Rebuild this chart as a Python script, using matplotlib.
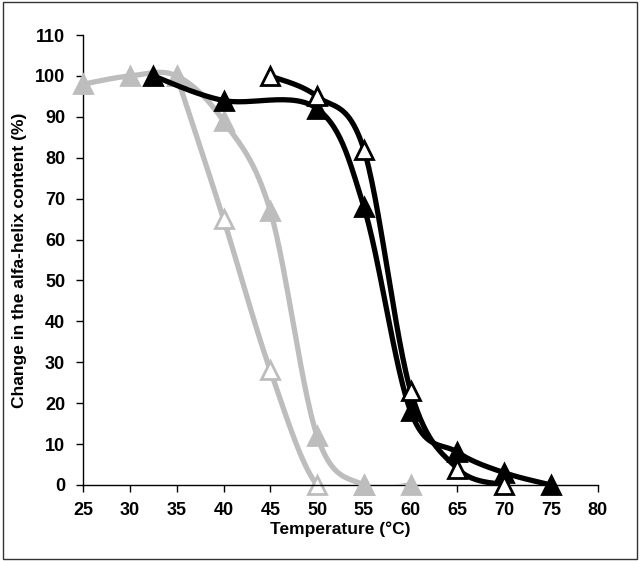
import numpy as np
import matplotlib.pyplot as plt
from matplotlib.patches import Rectangle

# data
gray_filled_x = [25, 30, 35, 40, 45, 50, 55, 60]
gray_filled_y = [98, 100, 100, 89, 67, 12, 0, 0]

gray_open_x = [35, 40, 45, 50, 55]
gray_open_y = [100, 65, 28, 0, 0]

black_filled_x = [32.5, 40, 50, 55, 60, 65, 70, 75]
black_filled_y = [100, 94, 92, 68, 18, 8, 3, 0]

black_open_x = [45, 50, 55, 60, 65, 70]
black_open_y = [100, 95, 82, 23, 4, 0]

x_ticks = list(range(25, 81, 5))
y_ticks = list(range(0, 111, 10))

gray = '#bdbdbd'


def smooth(xs, ys, n=30):
    # Excel-like smoothed line (Catmull-Rom bezier)
    p = np.column_stack([xs, ys]).astype(float)
    p = np.vstack([p[0], p, p[-1]])
    out = []
    t = np.linspace(0, 1, n)[:, None]
    for i in range(1, len(p) - 2):
        p0, p1, p2, p3 = p[i - 1], p[i], p[i + 1], p[i + 2]
        c1 = p1 + (p2 - p0) / 6
        c2 = p2 - (p3 - p1) / 6
        seg = ((1 - t) ** 3) * p1 + 3 * ((1 - t) ** 2) * t * c1 \
            + 3 * (1 - t) * t ** 2 * c2 + t ** 3 * p2
        out.append(seg)
    out = np.vstack(out)
    return out[:, 0], out[:, 1]


plt.rcParams['font.family'] = ['Liberation Sans', 'DejaVu Sans']

fig = plt.figure(figsize=(6.4, 5.61), dpi=100)
ax = fig.add_axes([0.13, 0.1355, 0.804, 0.802])

# drawing order: open gray first so filled gray sits on top of it
series = [
    (gray_open_x, gray_open_y, gray, 'white'),
    (gray_filled_x, gray_filled_y, gray, gray),
    (black_filled_x, black_filled_y, 'black', 'black'),
    (black_open_x, black_open_y, 'black', 'white'),
]

z = 2
for xs, ys, col, face in series:
    sx, sy = smooth(xs, ys)
    ax.plot(sx, sy, color=col, lw=3.8, solid_capstyle='round', zorder=z)
    ax.plot(xs, ys, ls='none', marker='^', ms=13, mfc=face, mec=col,
            mew=2, zorder=z + 0.5, clip_on=False)
    z += 1

ax.set_xlim(25, 80)
ax.set_ylim(0, 110)
ax.set_xticks(x_ticks)
ax.set_yticks(y_ticks)
ax.spines['top'].set_visible(False)
ax.spines['right'].set_visible(False)
ax.spines['left'].set_linewidth(1)
ax.spines['bottom'].set_linewidth(1)
ax.tick_params(direction='out', length=5, width=1, labelsize=13)
ax.tick_params(axis='y', pad=8)
ax.tick_params(axis='x', pad=7)
for lab in ax.get_xticklabels() + ax.get_yticklabels():
    lab.set_fontweight('bold')

ax.set_xlabel('Temperature (°C)', fontsize=12.5, fontweight='bold', labelpad=2)
ax.set_ylabel('Change in the alfa-helix content (%)', fontsize=12.5,
              fontweight='bold', labelpad=6)

fig.patches.append(Rectangle((0.004, 0.004), 0.992, 0.992, transform=fig.transFigure,
                             fill=False, edgecolor='#333333', lw=1))

fig.savefig('out.png', dpi=100)
